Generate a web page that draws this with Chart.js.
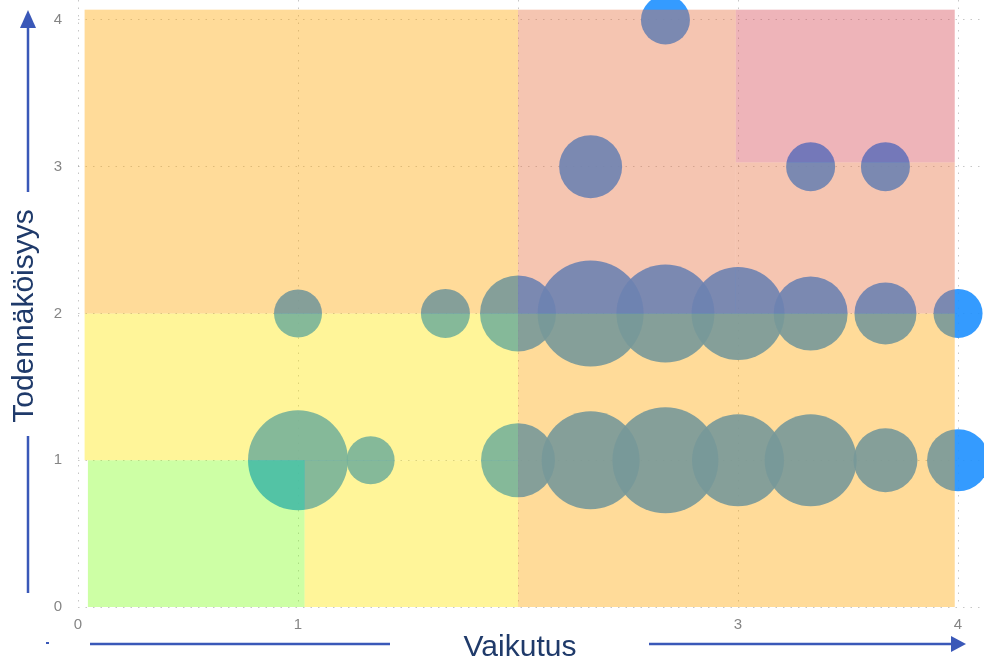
<!DOCTYPE html>
<html>
<head>
<meta charset="utf-8">
<script src="https://cdn.jsdelivr.net/npm/chart.js@4.4.0/dist/chart.umd.min.js"></script>
<style>
  html, body { margin: 0; padding: 0; background: #fff; }
  #c { display: block; }
</style>
</head>
<body>
<canvas id="c" width="984" height="660"></canvas>
<script>
// risks: impact (x), likelihood (y), bubble radius
var impact     = [1, 1.33, 2, 2.33, 2.67, 3, 3.33, 3.67, 4,   1, 1.67, 2, 2.33, 2.67, 3, 3.33, 3.67, 4,   2.33, 3.33, 3.67,   2.67];
var likelihood = [1, 1, 1, 1, 1, 1, 1, 1, 1,                  2, 2, 2, 2, 2, 2, 2, 2, 2,                  3, 3, 3,            4];
var radius     = [50, 24, 37, 49, 53, 46, 46, 32, 31,         24, 24.5, 38, 53, 49, 46.5, 37, 31, 24.5,   31.5, 24.5, 24.5,   24.5];

var xTickLabels = ['0', '1', '', '3', '4'];
var yTickLabels = ['0', '1', '2', '3', '4'];

// risk matrix zones (0 green, 1 yellow, 2 orange, 3 salmon, 4 red)
var zoneLeft   = [0.045, 0.03, 1.03, 0.03, 2,    2,    2.99, 2.99];
var zoneRight  = [1.03,  2,    2,    2,    3.985, 2.99, 3.985, 3.985];
var zoneBottom = [0,     1,    0,    2,    0,    2,    2,    3.03];
var zoneTop    = [1,     2,    1,    4.07, 2,    4.07, 3.03, 4.07];
var zoneLevel  = [0,     1,    1,    2,    2,    3,    3,    4];

var zoneColors = ['rgba(130,255,30,0.4)', 'rgba(255,230,0,0.4)', 'rgba(255,165,0,0.4)',
                  'rgba(230,110,60,0.4)', 'rgba(212,68,80,0.4)'];
var titleColor = '#1f3a6a';
var arrowColor = '#3a58b8';

var points = impact.map(function(x, i) {
    return {x: x, y: likelihood[i], r: radius[i]};
});

var zonePlugin = {
    id: 'zones',
    afterDatasetsDraw: function(chart) {
        var ctx = chart.ctx, xs = chart.scales.x, ys = chart.scales.y;
        ctx.save();
        zoneLeft.forEach(function(v, i) {
            var l = xs.getPixelForValue(v), r = xs.getPixelForValue(zoneRight[i]);
            var t = ys.getPixelForValue(zoneTop[i]), b = ys.getPixelForValue(zoneBottom[i]);
            ctx.fillStyle = zoneColors[zoneLevel[i]];
            ctx.fillRect(l, t, r - l, b - t);
        });
        ctx.restore();
    }
};

function arrowHead(ctx, tipX, tipY, dir) {
    ctx.beginPath();
    if (dir === 'right') {
        ctx.moveTo(tipX, tipY);
        ctx.lineTo(tipX - 15, tipY - 8);
        ctx.lineTo(tipX - 15, tipY + 8);
    } else {
        ctx.moveTo(tipX, tipY);
        ctx.lineTo(tipX - 8, tipY + 18);
        ctx.lineTo(tipX + 8, tipY + 18);
    }
    ctx.closePath();
    ctx.fill();
}

var titlePlugin = {
    id: 'axisTitles',
    afterDraw: function(chart) {
        var ctx = chart.ctx;
        ctx.save();
        ctx.fillStyle = titleColor;
        ctx.font = '30px "Liberation Sans", Arial, sans-serif';
        ctx.textAlign = 'center';
        ctx.textBaseline = 'middle';
        ctx.fillText('Vaikutus', 520, 648);
        ctx.translate(25, 316);
        ctx.rotate(-Math.PI / 2);
        ctx.fillText('Todennäköisyys', 0, 0);
        ctx.restore();

        ctx.save();
        ctx.strokeStyle = arrowColor;
        ctx.fillStyle = arrowColor;
        ctx.lineWidth = 2.5;
        ctx.beginPath();
        ctx.moveTo(90, 644); ctx.lineTo(390, 644);
        ctx.moveTo(649, 644); ctx.lineTo(952, 644);
        ctx.moveTo(28, 593); ctx.lineTo(28, 436);
        ctx.moveTo(28, 192); ctx.lineTo(28, 26);
        ctx.stroke();
        arrowHead(ctx, 966, 644, 'right');
        arrowHead(ctx, 28, 10, 'up');
        ctx.fillRect(46, 642, 3, 2);
        ctx.restore();
    }
};

var tickFont = {family: '"Liberation Sans", Arial, sans-serif', size: 15};

new Chart(document.getElementById('c').getContext('2d'), {
    type: 'bubble',
    data: {
        datasets: [{
            data: points,
            backgroundColor: 'rgba(30,144,255,0.9)',
            borderWidth: 0,
            clip: false
        }]
    },
    options: {
        responsive: false,
        animation: false,
        events: [],
        layout: {padding: 0, autoPadding: false},
        plugins: {legend: {display: false}, tooltip: {enabled: false}},
        scales: {
            x: {
                type: 'linear',
                min: 0,
                max: 4.118,
                afterFit: function(scale) {
                    scale.height = 53;
                    scale.paddingLeft = 0;
                    scale.paddingRight = 0;
                },
                ticks: {
                    stepSize: 1,
                    includeBounds: false,
                    padding: 9,
                    color: '#858585',
                    font: tickFont,
                    callback: function(v) { return xTickLabels[Math.round(v)]; }
                },
                grid: {color: 'rgba(0,0,0,0.22)', drawTicks: false},
                border: {display: false, dash: [1.5, 6]}
            },
            y: {
                type: 'linear',
                min: 0,
                max: 4.136,
                afterFit: function(scale) {
                    scale.width = 78;
                    scale.paddingTop = 0;
                    scale.paddingBottom = 0;
                },
                ticks: {
                    stepSize: 1,
                    includeBounds: false,
                    padding: 16,
                    color: '#858585',
                    font: tickFont,
                    callback: function(v) { return yTickLabels[Math.round(v)]; }
                },
                grid: {color: 'rgba(0,0,0,0.22)', drawTicks: false},
                border: {display: false, dash: [1.5, 6]}
            }
        }
    },
    plugins: [zonePlugin, titlePlugin]
});
</script>
</body>
</html>
